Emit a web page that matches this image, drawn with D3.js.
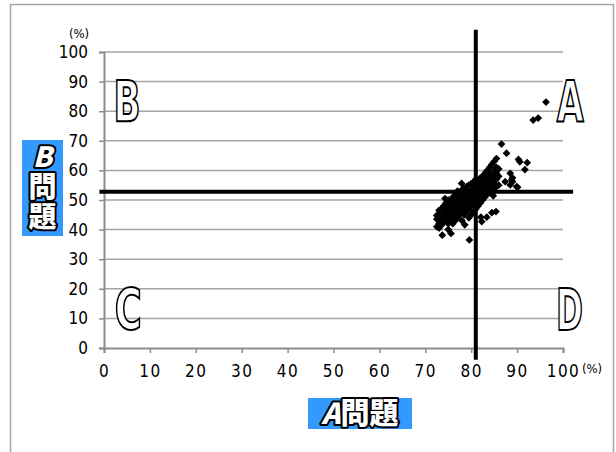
<!DOCTYPE html>
<html><head><meta charset="utf-8">
<script src="https://cdn.jsdelivr.net/npm/d3@7"></script>
<style>body{margin:0;background:#fff}svg{display:block}</style>
</head><body><svg id="c" width="616" height="452"></svg>
<script>
// ---- data ----
const xTicks = [0,10,20,30,40,50,60,70,80,90,100];
const yTicks = [0,10,20,30,40,50,60,70,80,90,100];
const refX = 81;      // A問題 threshold
const refY = 52.8;    // B問題 threshold
const xLabel = "A問題";
const yLabel = "B問題";
const quadrants = [
  {t:"A", x:101.6, y:76.4},
  {t:"B", x:5,    y:76.4},
  {t:"C", x:5.3,  y:6.1},
  {t:"D", x:101.4, y:6.1}
];
const pointsX = [
 72.5,72.5,72.5, 73,73,73,73,73, 73.5,73.5,73.5,73.7,
 74,74,74,74,74.3, 74.5,74.5,74.5,74.5, 75,75,75,75,75,75,
 75.5,75.6,75.5,75.5,75.5, 76,76,76,76,76,76, 76.5,76.5,76.5,76.5,76.5,
 77,77,77,77,77,77, 77.5,77.5,77.5,77.5,77.5, 78,78,78,78,78,78,77.9,
 78.5,78.6,78.5,78.5,78.5,78.5, 79,79,79,79,79, 79.6,79.5,79.5,79.5,79.5,79.5,79.5,
 80,80,80,80,80,80, 80.5,80.5,80.5,80.5,80.5,80.5, 81,81,81,81,81,81,
 81.5,81.5,81.5,81.5,81.5, 82.1,82,82,82,82,82, 82.3,82.5,82.5,82.5,82.5,82.5,
 83.4,83,83,83,83,83, 83.5,83.5,83.5,83.5,83.5, 84.5,84,84,84,84,84,
 85.4,84.8,84.5,84.5,84.5,84.5, 85,85,85,85,85, 85.5,85.5,85.5,85.5,85.5,
 86,86,86, 86.6, 87.4,87.7, 88.5,88.8,88.5,89, 89,89.9,90.1, 90.3,90.6,91.7,92.2,
 93.5,94.6,96.3
];
const pointsY = [
 41,43.5,44.8, 40.5,42,43,45,46.5, 41.5,44,47,38.1,
 42.5,44.5,46,48,50.5, 43,45,47.5,49, 40,42,44,46,48,50,
 43.5,38.7,45.5,47,49.5, 42,44.5,46.5,48.5,50,51, 43,45,47,49,51.5,
 44,46,47.5,49.5,52,53, 45,47,48.5,50.5,52.5, 43,46,48,49,51,53.5,55.6,
 45,41.6,47.5,49.5,51.5,54, 46,48,50,52,54.5, 36.5,44,47,49,51,53,55,
 45,48,50,51.5,53,55.5, 46,49,50.5,52,54,56, 47,49.5,51,53,55,57,
 48,50,52,54,56, 44.2,49,51,53,55,57.5, 42.7,50,52,54,56,58,
 44.2,51,53,55,57,59, 52,54,56,58,60, 45.7,52.5,55,57,59,61,
 46.1,51.4,54,56,58,62, 53,55.5,57.5,60,63, 54.5,57,59,61,64,
 55,58,60.5, 68.9, 56.2,65.8, 55.1,56.8,59,57.5, 56.2,54.5,54.3, 63.7,62.9,60.3,62.6,
 77,77.7,83.1
];

// ---- chart ----
const svg = d3.select("#c");
const x = d3.scaleLinear().domain([0,100]).range([104,563]);
const y = d3.scaleLinear().domain([0,100]).range([348,52]);
const numFont = "'Liberation Sans Narrow','DejaVu Sans Condensed','Noto Sans CJK JP',sans-serif";

// outer frame
svg.append("rect").attr("x",10.5).attr("y",4.5).attr("width",603).attr("height",470)
  .attr("fill","#fff").attr("stroke","#a6a6a6").attr("stroke-width",1.5);

// gridlines
svg.append("g").selectAll("line").data(yTicks.filter(d=>d>0)).join("line")
  .attr("x1",x(0)).attr("x2",x(100)).attr("y1",d=>y(d)).attr("y2",d=>y(d))
  .attr("stroke","#a6a6a6").attr("stroke-width",1.5);

// y axis
const yAxis = svg.append("g").attr("transform",`translate(${x(0)},0)`)
  .call(d3.axisLeft(y).tickValues(yTicks).tickSize(5).tickPadding(11).tickFormat(d3.format("d")));
yAxis.select(".domain").attr("stroke","#8c8c8c").attr("stroke-width",2);
yAxis.selectAll(".tick line").attr("stroke","#8c8c8c").attr("stroke-width",1.5);
yAxis.selectAll("text").attr("font-family",numFont).attr("font-size",17).attr("fill","#000");

// x axis
const xAxis = svg.append("g").attr("transform",`translate(0,${y(0)})`)
  .call(d3.axisBottom(x).tickValues(xTicks).tickSize(5).tickPadding(12).tickFormat(d3.format("d")));
xAxis.select(".domain").attr("stroke","#8c8c8c").attr("stroke-width",2);
xAxis.selectAll(".tick line").attr("stroke","#8c8c8c").attr("stroke-width",1.5);
xAxis.selectAll("text").attr("font-family",numFont).attr("font-size",17).attr("fill","#000")
  .attr("letter-spacing","1.5px");

// unit labels
svg.append("text").attr("x",79).attr("y",38).attr("text-anchor","middle")
  .attr("font-family",numFont).attr("font-size",13).text("(%)");
svg.append("text").attr("x",592).attr("y",373).attr("text-anchor","middle")
  .attr("font-family",numFont).attr("font-size",13).text("(%)");

// points
const pts = pointsX.map((v,i)=>({x:v,y:pointsY[i]}));
const sym = d3.symbol().type(d3.symbolSquare).size(30);
svg.append("g").selectAll("path").data(pts).join("path")
  .attr("d",sym).attr("transform",d=>`translate(${x(d.x)},${y(d.y)}) rotate(45)`)
  .attr("fill","#000");

// reference lines
svg.append("line").attr("x1",x(refX)).attr("x2",x(refX)).attr("y1",y(107.5)).attr("y2",y(-4))
  .attr("stroke","#000").attr("stroke-width",4);
svg.append("line").attr("x1",x(-1)).attr("x2",x(102.2)).attr("y1",y(refY)).attr("y2",y(refY))
  .attr("stroke","#000").attr("stroke-width",4);

// quadrant letters
svg.append("g").selectAll("text").data(quadrants).join("text")
  .attr("x",d=>x(d.x)).attr("y",d=>y(d.y)).attr("text-anchor","middle")
  .attr("font-family",numFont).attr("font-size",57).attr("font-weight","bold")
  .attr("fill","#fff").attr("stroke","#000").attr("stroke-width",2)
  .attr("textLength",27).attr("lengthAdjust","spacingAndGlyphs")
  .text(d=>d.t);

// axis titles (blue boxes)
const blue = "#3399ff";
const jp = "'Noto Sans CJK JP',sans-serif";
svg.append("rect").attr("x",22).attr("y",140).attr("width",41).attr("height",96).attr("fill",blue);
svg.append("text").attr("x",42.5).attr("y",142)
  .style("writing-mode","vertical-rl").style("text-orientation","upright")
  .attr("font-family",jp).attr("font-weight",900).attr("font-size",28)
  .attr("letter-spacing","2px")
  .attr("fill","#fff").attr("stroke","#000").attr("stroke-width",4)
  .attr("paint-order","stroke").attr("stroke-linejoin","round")
  .selectAll("tspan").data(yLabel.split("")).join("tspan")
  .attr("font-style",(d,i)=>i===0?"italic":"normal").text(d=>d);

svg.append("rect").attr("x",308).attr("y",398).attr("width",104).attr("height",31).attr("fill",blue);
svg.append("text").attr("x",360).attr("y",424).attr("text-anchor","middle")
  .attr("font-family",jp).attr("font-weight",900).attr("font-size",29)
  .attr("fill","#fff").attr("stroke","#000").attr("stroke-width",4)
  .attr("paint-order","stroke").attr("stroke-linejoin","round")
  .selectAll("tspan").data(xLabel.split("")).join("tspan")
  .attr("font-style",(d,i)=>i===0?"italic":"normal").text(d=>d);
</script></body></html>
